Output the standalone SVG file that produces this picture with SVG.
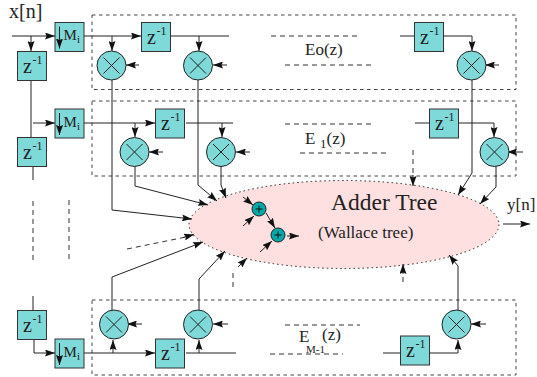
<svg xmlns="http://www.w3.org/2000/svg" width="537" height="377" viewBox="0 0 537 377">
<style>
text{font-family:"Liberation Serif","Times New Roman",serif;fill:#222}
.bx{fill:#7fd9d9;stroke:#333;stroke-width:1}
.ml{fill:#7fd9d9;stroke:#222;stroke-width:1}
.w{fill:none;stroke:#222;stroke-width:1}
.wa{fill:none;stroke:#222;stroke-width:1;marker-end:url(#a)}
.d{fill:none;stroke:#333;stroke-width:1;stroke-dasharray:5 4}
.db{fill:none;stroke:#444;stroke-width:1;stroke-dasharray:3.5 3.5}
.z{font-size:20px}.s{font-size:12px}
</style>
<defs>
<marker id="a" viewBox="0 0 10 7" refX="10" refY="3.5" markerWidth="10" markerHeight="7" markerUnits="userSpaceOnUse" orient="auto"><path d="M0 0L10 3.5L0 7L1.500 3.500Z" fill="#111"/></marker>
<g id="zb"><rect class="bx" width="29" height="29"/><text class="z" x="5.500" y="21">z</text><text class="s" x="15" y="12">-1</text></g>
<g id="mb"><rect class="bx" width="29" height="29"/><path class="w" d="M4.500 4V26" marker-end="url(#a)"/><text x="8.500" y="17.500" font-size="15">M</text><text x="22" y="20.500" font-size="11">i</text></g>
<g id="mu"><circle class="ml" r="14.500"/><path class="w" d="M-8 -8L8 8M8 -8L-8 8"/></g>
<g id="ad"><circle r="7" fill="#00a8a8" stroke="#222"/><path d="M-3.500 0H3.500M0 -3.500V3.500" stroke="#111" fill="none"/></g>
</defs>
<g id="ellipse"><ellipse cx="344" cy="224.500" rx="155" ry="44" fill="#ffe0e0" stroke="#222" stroke-width="1" stroke-dasharray="1.500 3"/></g>
<g id="regions">
<rect class="db" x="92" y="15" width="424" height="74.500"/>
<rect class="db" x="92" y="101" width="424" height="75"/>
<rect class="db" x="92" y="300" width="424" height="75"/>
</g>
<g id="connectors">
<path class="wa" d="M12 36H55"/><path class="wa" d="M31 36V51"/>
<path class="wa" d="M84 36H141"/><path class="wa" d="M112 36V51"/>
<path class="w" d="M170 36H229"/><path class="wa" d="M199 36V51"/>
<path class="wa" d="M139 65H126"/><path class="wa" d="M227 65H213"/>
<path class="w" d="M31 80V137"/>
<path class="wa" d="M33 123H55"/>
<path class="wa" d="M84 123H155"/>
<path class="w" d="M186 123H233"/><path class="wa" d="M135 123V137"/><path class="wa" d="M222 123V137"/>
<path class="wa" d="M163 152H149"/><path class="wa" d="M250 152H236"/>
<path class="w" d="M33 166V180"/>
<path class="wa" d="M112 80V210L192 219"/>
<path class="wa" d="M198 80V185L217 201"/>
<path class="wa" d="M135 166V186L208 205"/>
<path class="wa" d="M221 166V185L226 198"/>
<path class="d" d="M33 201V264M69 200V263"/>
<path class="d" d="M127 249L186 237"/><path class="wa" d="M183 237.500L194 234.500"/>
<path class="wa" d="M112 311V277L203 242"/>
<path class="wa" d="M199 311V279L225 251"/>
<path class="d" d="M233 287V270"/><path class="wa" d="M238 267L247 258"/>
<path class="w" d="M33 296V310"/>
<path class="w" d="M34 340V353"/><path class="wa" d="M34 353H55"/>
<path class="wa" d="M84 353H155"/>
<path class="w" d="M186 353H236"/>
<path class="wa" d="M113 353V340"/><path class="wa" d="M199 353V340"/>
<path class="wa" d="M142 324H127"/><path class="wa" d="M228 324H213"/>
<path class="d" d="M271 36H357M285 65H372"/>
<path class="d" d="M285 124H372M300 153H387"/>
<path class="d" d="M285 325H360M270 354H343"/>
<path class="w" d="M400 36H414"/><path class="wa" d="M443 36H472V51"/>
<path class="wa" d="M499 65H485"/>
<path class="w" d="M415 123H429"/><path class="wa" d="M459 123H494V137"/>
<path class="wa" d="M523 152H507"/>
<path class="wa" d="M472 80V173L458 195"/>
<path class="wa" d="M496 166V187L480 204"/>
<path class="d" d="M413 150V176"/><path class="wa" d="M413 175V186"/>
<path class="wa" d="M503 224H530"/>
<path class="wa" d="M458 311V266L449 255"/>
<path class="d" d="M403 282V274"/><path class="wa" d="M403 274V264"/>
<path class="w" d="M383 353H458"/><path class="wa" d="M458 353V340"/>
<path class="wa" d="M486 324H471"/>
<path class="wa" d="M243 197L253 205"/><path class="wa" d="M243 226L254 216"/>
<path class="wa" d="M266 213L275 228"/><path class="wa" d="M260 252L272 241"/>
<path class="wa" d="M287 236H299"/>
</g>
<g id="zm0"><use href="#mb" x="55" y="22.500"/></g>
<g id="zm1"><use href="#mb" x="55" y="109"/></g>
<g id="zm2"><use href="#mb" x="55" y="339"/></g>
<g id="z1"><use href="#zb" x="17.500" y="51.500"/></g>
<g id="z2"><use href="#zb" x="17.500" y="137.500"/></g>
<g id="z3"><use href="#zb" x="17.500" y="310.500"/></g>
<g id="z4"><use href="#zb" x="141.500" y="22.500"/></g>
<g id="z5"><use href="#zb" x="414.500" y="22.500"/></g>
<g id="z6"><use href="#zb" x="155.500" y="109"/></g>
<g id="z7"><use href="#zb" x="429.500" y="109"/></g>
<g id="z8"><use href="#zb" x="155.500" y="339"/></g>
<g id="z9"><use href="#zb" x="400.500" y="336"/></g>
<g id="m1"><use href="#mu" x="111.500" y="65.500"/></g>
<g id="m2"><use href="#mu" x="198" y="65.500"/></g>
<g id="m3"><use href="#mu" x="471.500" y="65.500"/></g>
<g id="m4"><use href="#mu" x="134.500" y="152"/></g>
<g id="m5"><use href="#mu" x="221" y="152"/></g>
<g id="m6"><use href="#mu" x="494.500" y="152"/></g>
<g id="m7"><use href="#mu" x="114" y="324.500"/></g>
<g id="m8"><use href="#mu" x="198" y="324.500"/></g>
<g id="m9"><use href="#mu" x="456.500" y="324.500"/></g>
<g id="a1"><use href="#ad" x="259" y="209"/></g>
<g id="a2"><use href="#ad" x="278" y="235"/></g>
<g id="labels">
<text x="9" y="18" font-size="20">x[n]</text>
<text x="305" y="55" font-size="17">Eo(z)</text>
<text x="305" y="144" font-size="17">E</text><text x="320" y="148" font-size="13">1</text><text x="326.500" y="144" font-size="17">(z)</text>
<text x="299" y="342" font-size="17">E</text><text x="322" y="340" font-size="17">(z)</text><text x="306" y="353" font-size="11">M-1</text>
<text x="331" y="210" font-size="23.500">Adder Tree</text>
<text x="318" y="238" font-size="17">(Wallace tree)</text>
<text x="507" y="210" font-size="17">y[n]</text>
</g>
</svg>
